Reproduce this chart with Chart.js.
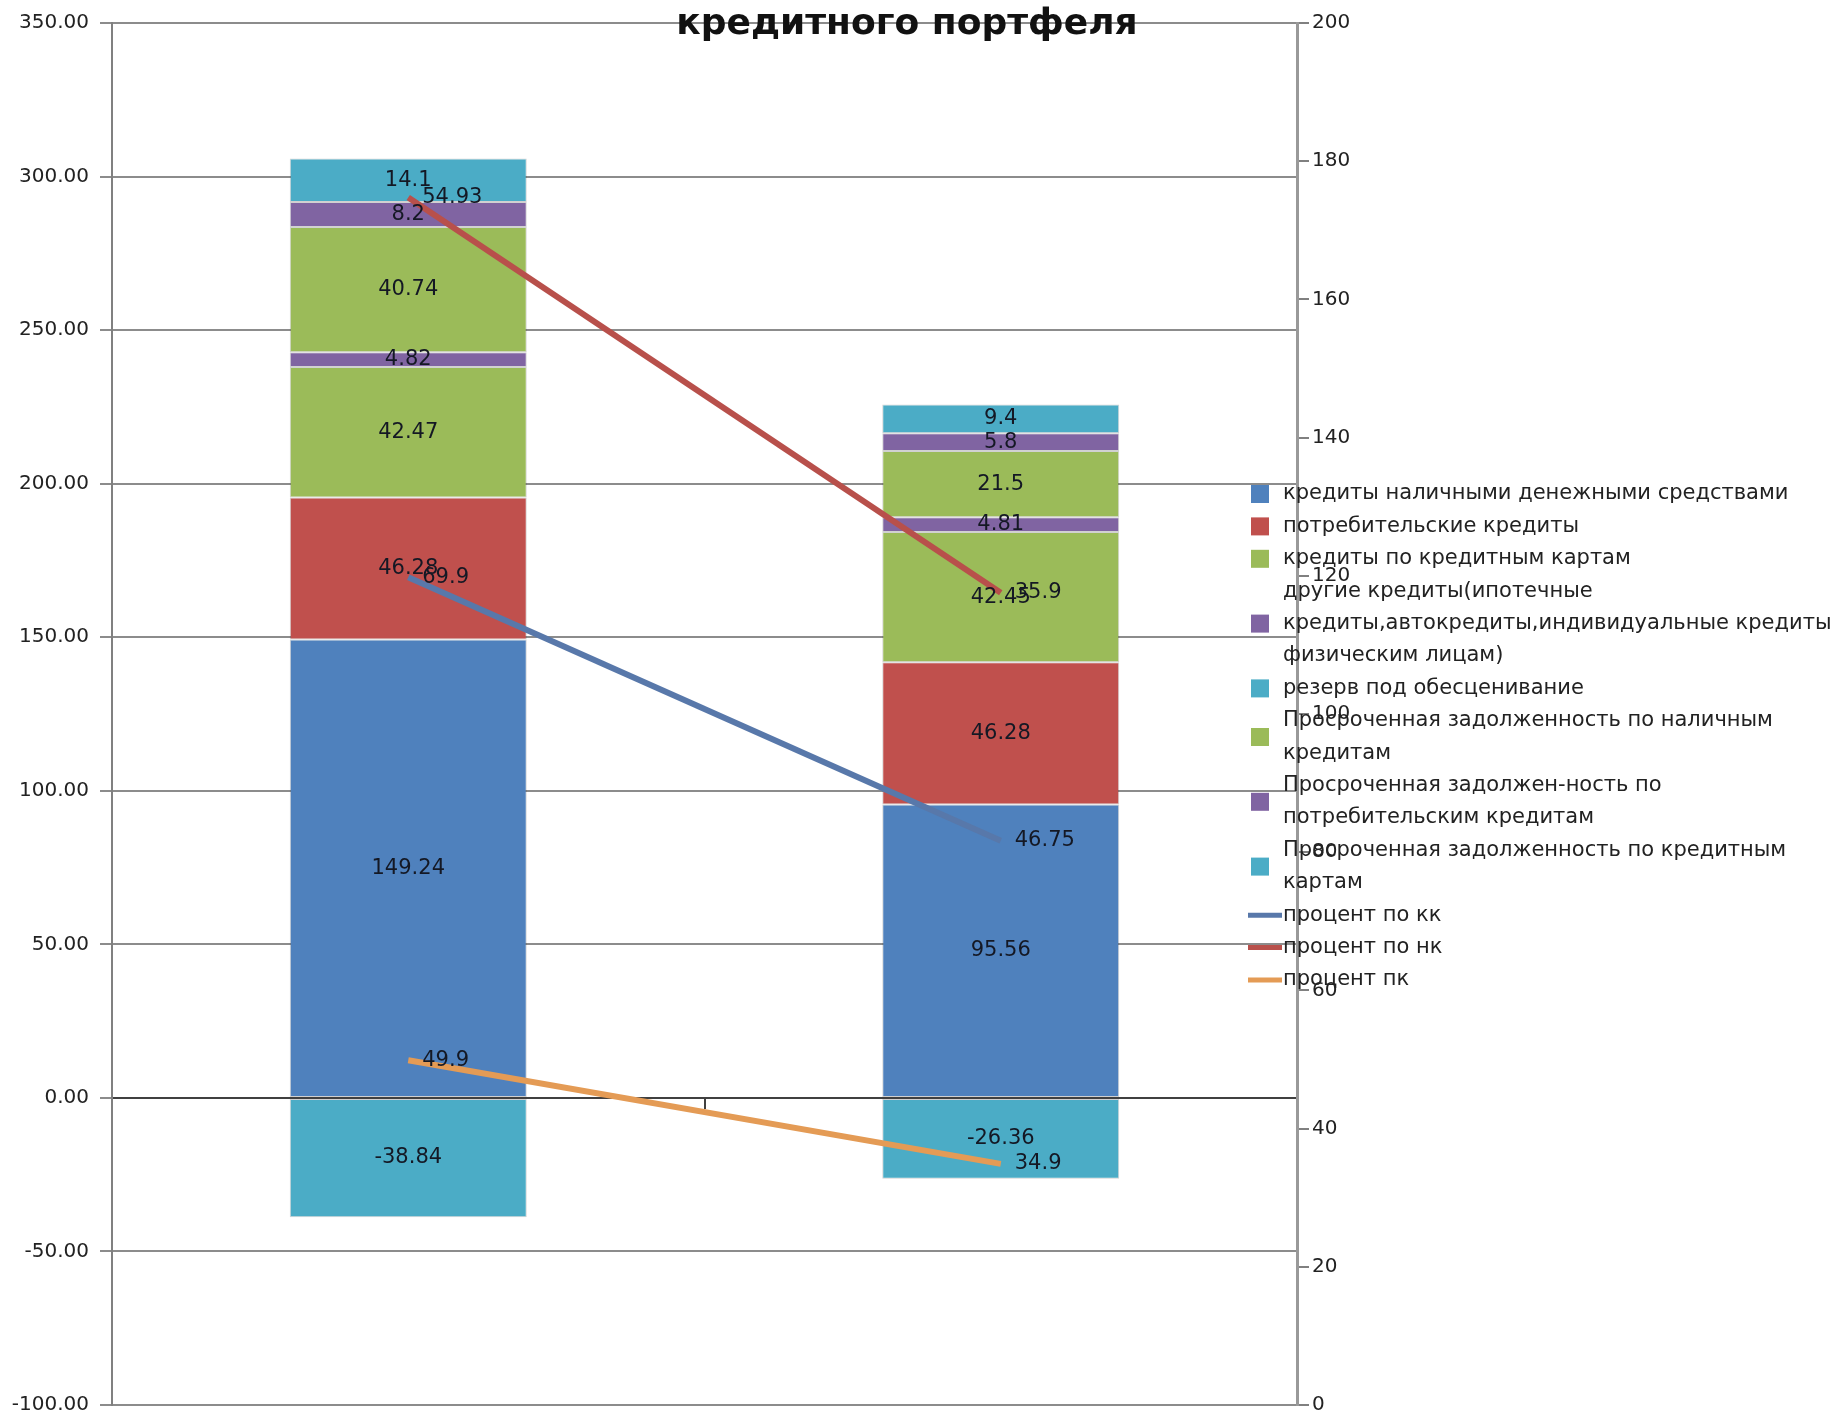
<!DOCTYPE html>
<html>
<head>
<meta charset="utf-8">
<script src="https://cdn.jsdelivr.net/npm/chart.js@4.4.0/dist/chart.umd.min.js"></script>
<style>
    body { margin: 0; background: #fff; }
</style>
</head>
<body>
<canvas id="chart" width="1844" height="1428"></canvas>
<script>
// ================= DATA =================

const categories = ['', ''];

// stacked bars (left axis)
const cashLoans = [149.24, 95.56];
const consumerLoans = [46.28, 46.28];
const cardLoans = [42.47, 42.45];
const otherLoans = [4.82, 4.81];
const impairmentReserve = [-38.84, -26.36];
const overdueCash = [40.74, 21.5];
const overdueConsumer = [8.2, 5.8];
const overdueCards = [14.1, 9.4];

// stacked lines (right axis)
const rateCards = [69.9, 46.75];
const rateCash = [54.93, 35.9];
const rateConsumer = [49.9, 34.9];

// axis ticks
const leftTicks = [-100, -50, 0, 50, 100, 150, 200, 250, 300, 350];
const rightTicks = [0, 20, 40, 60, 80, 100, 120, 140, 160, 180, 200];

const titleText = 'кредитного портфеля';

// series names, split into lines like in the legend
const names = {
    cash: ['кредиты наличными денежными средствами'],
    consumer: ['потребительские кредиты'],
    cards: ['кредиты по кредитным картам'],
    other: ['другие кредиты(ипотечные', 'кредиты,автокредиты,индивидуальные кредиты', 'физическим лицам)'],
    reserve: ['резерв под обесценивание'],
    overdueCash: ['Просроченная задолженность по наличным', 'кредитам'],
    overdueConsumer: ['Просроченная задолжен-ность по', 'потребительским кредитам'],
    overdueCards: ['Просроченная задолженность по кредитным', 'картам'],
    rateCards: ['процент по кк'],
    rateCash: ['процент по нк'],
    rateConsumer: ['процент пк']
};

const BLUE = '#4F81BD', RED = '#C0504D', GREEN = '#9BBB59', PURPLE = '#8064A2', CYAN = '#4BACC6';

// ================= PLUGINS =================

// value labels on bars and line points
const valueLabels = {
    id: 'valueLabels',
    afterDatasetsDraw(chart) {
        const ctx = chart.ctx;
        ctx.save();
        ctx.font = '21px "DejaVu Sans"';
        ctx.fillStyle = '#141824';
        ctx.textBaseline = 'middle';
        chart.data.datasets.forEach((ds, i) => {
            const meta = chart.getDatasetMeta(i);
            meta.data.forEach((el, j) => {
                const text = String(ds.data[j]);
                if (meta.type === 'bar') {
                    ctx.textAlign = 'center';
                    ctx.fillText(text, el.x, (el.y + el.base) / 2);
                } else {
                    ctx.textAlign = 'left';
                    ctx.fillText(text, el.x + 14, el.y);
                }
            });
        });
        ctx.restore();
    }
};

// title (only the lower line is visible) and legend drawn over the chart
const overlay = {
    id: 'overlay',
    afterDraw(chart) {
        const ctx = chart.ctx;
        ctx.save();
        ctx.fillStyle = '#111';
        ctx.font = 'bold 36px "DejaVu Sans"';
        ctx.textAlign = 'center';
        ctx.textBaseline = 'alphabetic';
        ctx.fillText(titleText, 907, 34);

        // legend
        const lh = 32.4;
        let row = 0;
        ctx.font = '21px "DejaVu Sans"';
        ctx.textAlign = 'left';
        ctx.textBaseline = 'middle';
        chart.data.datasets.forEach(ds => {
            const lines = ds.label;
            const top = 494 + row * lh;
            const cy = top + (lines.length - 1) * lh / 2;
            if (ds.type === 'line') {
                ctx.strokeStyle = ds.borderColor;
                ctx.lineWidth = 5;
                ctx.beginPath();
                ctx.moveTo(1248, cy);
                ctx.lineTo(1282, cy);
                ctx.stroke();
            } else {
                ctx.fillStyle = ds.backgroundColor;
                ctx.fillRect(1251, cy - 9, 18, 18);
            }
            ctx.fillStyle = '#222';
            lines.forEach((t, k) => ctx.fillText(t, 1283, top + k * lh));
            row += lines.length;
        });
        ctx.restore();
    }
};

// ================= CHART =================

const barStyle = { borderWidth: 1, borderColor: 'rgba(0,0,0,0.18)', borderSkipped: false, yAxisID: 'y', order: 5 };
const lineStyle = { type: 'line', yAxisID: 'y1', borderWidth: 6, pointRadius: 0, fill: false };

const ctx = document.getElementById('chart').getContext('2d');
Chart.defaults.font.family = '"DejaVu Sans"';
Chart.defaults.font.size = 20;
Chart.defaults.color = '#222';

new Chart(ctx, {
    type: 'bar',
    data: {
        labels: categories,
        datasets: [
            { label: names.cash, data: cashLoans, backgroundColor: BLUE, ...barStyle },
            { label: names.consumer, data: consumerLoans, backgroundColor: RED, ...barStyle },
            { label: names.cards, data: cardLoans, backgroundColor: GREEN, ...barStyle },
            { label: names.other, data: otherLoans, backgroundColor: PURPLE, ...barStyle },
            { label: names.reserve, data: impairmentReserve, backgroundColor: CYAN, ...barStyle },
            { label: names.overdueCash, data: overdueCash, backgroundColor: GREEN, ...barStyle },
            { label: names.overdueConsumer, data: overdueConsumer, backgroundColor: PURPLE, ...barStyle },
            { label: names.overdueCards, data: overdueCards, backgroundColor: CYAN, ...barStyle },
            // lines are stacked: пк at the bottom, then кк, then нк
            { label: names.rateCards, data: rateCards, borderColor: '#5878AA', order: 2, ...lineStyle },
            { label: names.rateCash, data: rateCash, borderColor: '#B8504B', order: 3, ...lineStyle },
            { label: names.rateConsumer, data: rateConsumer, borderColor: '#E49B55', order: 1, ...lineStyle }
        ]
    },
    options: {
        responsive: false,
        animation: false,
        barPercentage: 0.4,
        categoryPercentage: 1.0,
        layout: { padding: { top: 20, bottom: 13, left: 0, right: 0 } },
        plugins: {
            legend: { display: false },
            tooltip: { enabled: false },
            title: { display: false }
        },
        scales: {
            x: {
                stacked: true,
                position: { y: 0 },
                offset: true,
                grid: { offset: true, drawOnChartArea: false, drawTicks: true, tickLength: 10, color: '#404040', lineWidth: 2 },
                border: { display: true, color: '#404040', width: 2 },
                ticks: { display: false }
            },
            y: {
                position: 'left',
                stacked: true,
                min: leftTicks[0],
                max: leftTicks[leftTicks.length - 1],
                afterBuildTicks: s => { s.ticks = leftTicks.map(v => ({ value: v })); },
                afterFit: s => { s.width = 112; },
                grid: { color: '#8c8c8c', lineWidth: 2, tickLength: 12 },
                border: { color: '#808080', width: 2 },
                ticks: { padding: 11, callback: v => v.toFixed(2) }
            },
            y1: {
                position: 'right',
                stacked: true,
                min: rightTicks[0],
                max: rightTicks[rightTicks.length - 1],
                afterBuildTicks: s => { s.ticks = rightTicks.map(v => ({ value: v })); },
                afterFit: s => { s.width = 547; },
                grid: { drawOnChartArea: false, color: '#808080', lineWidth: 2, tickLength: 12 },
                border: { color: '#999999', width: 3 },
                ticks: { padding: 3 }
            }
        }
    },
    plugins: [valueLabels, overlay]
});
</script>
</body>
</html>
